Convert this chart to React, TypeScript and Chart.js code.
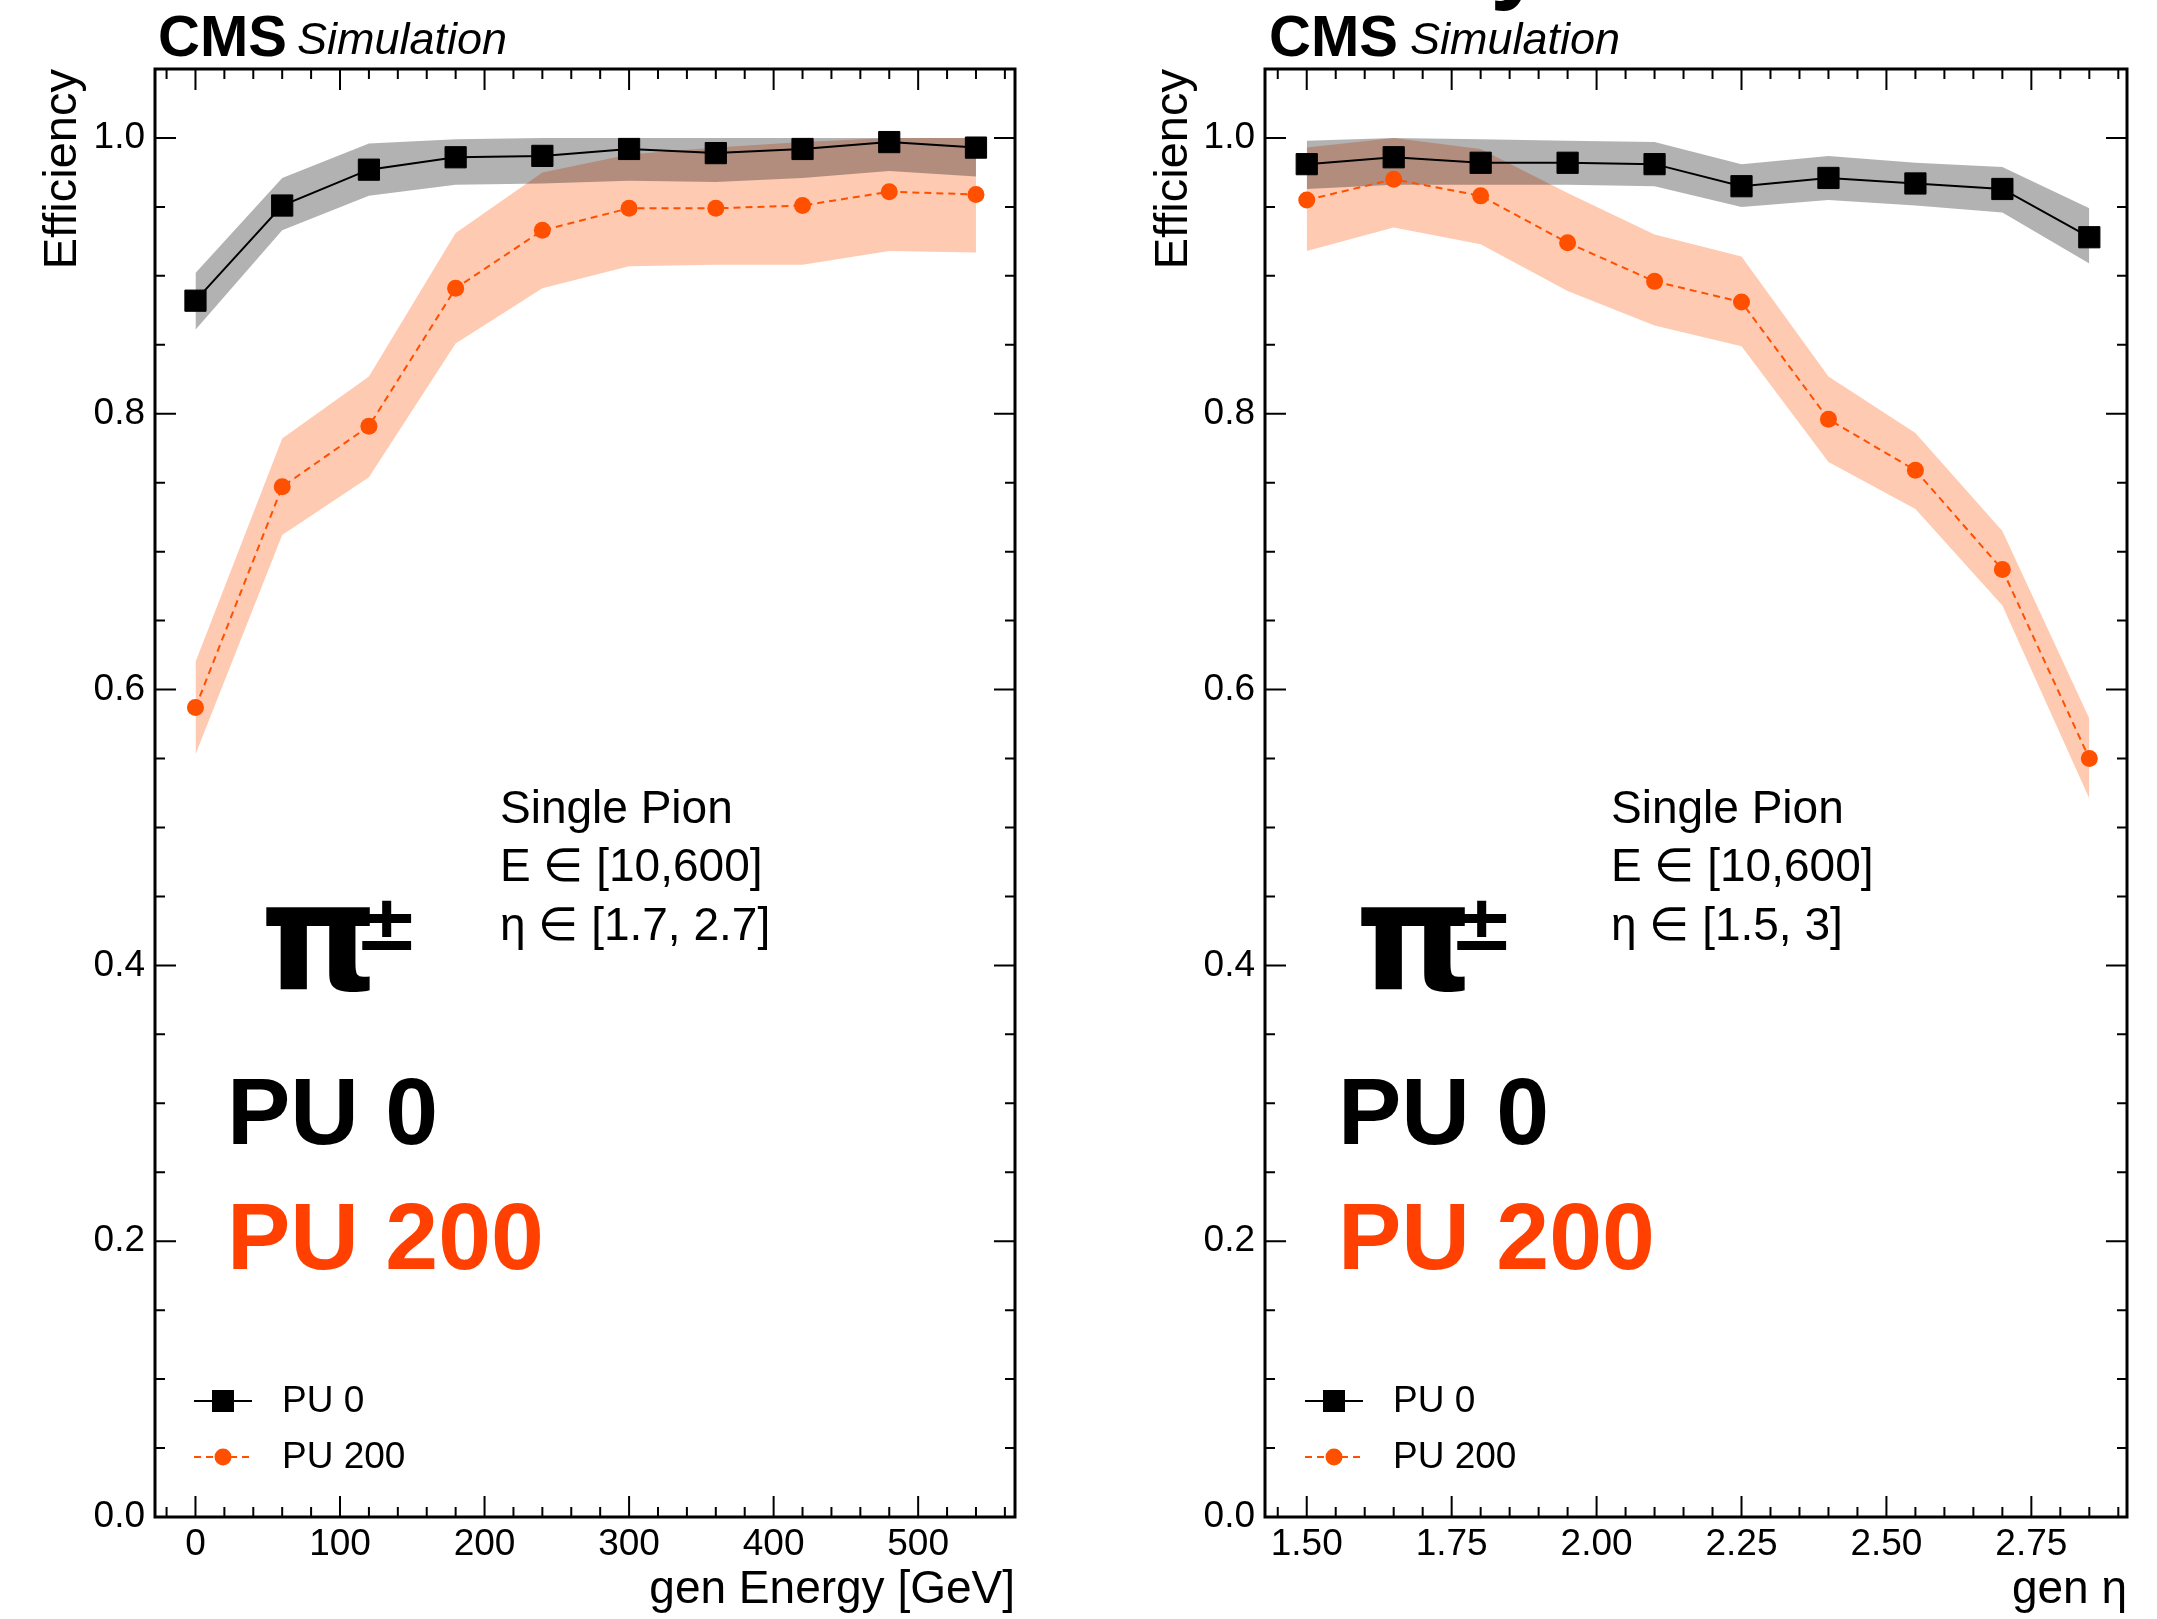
import React, { useEffect, useRef } from "react";
import { Chart, registerables } from "chart.js";

Chart.register(...registerables);

// ---------- data: left panel (efficiency vs generated energy) ----------
const energyBins = [0, 60, 120, 180, 240, 300, 360, 420, 480, 540];
const pu0Energy = [0.882, 0.951, 0.977, 0.986, 0.987, 0.992, 0.989, 0.992, 0.997, 0.993];
const pu0EnergyUp = [0.902, 0.971, 0.996, 0.999, 1.0, 1.0, 1.0, 1.0, 1.0, 1.0];
const pu0EnergyLo = [0.861, 0.933, 0.958, 0.966, 0.967, 0.969, 0.968, 0.971, 0.976, 0.972];
const pu200Energy = [0.587, 0.747, 0.791, 0.891, 0.933, 0.949, 0.949, 0.951, 0.961, 0.959];
const pu200EnergyUp = [0.62, 0.782, 0.827, 0.931, 0.975, 0.988, 0.993, 0.997, 1.0, 1.0];
const pu200EnergyLo = [0.553, 0.712, 0.754, 0.851, 0.891, 0.907, 0.908, 0.908, 0.918, 0.917];

// ---------- data: right panel (efficiency vs generated eta) ----------
const etaBins = [1.5, 1.65, 1.8, 1.95, 2.1, 2.25, 2.4, 2.55, 2.7, 2.85];
const pu0Eta = [0.981, 0.986, 0.982, 0.982, 0.981, 0.965, 0.971, 0.967, 0.963, 0.928];
const pu0EtaUp = [0.998, 1.0, 0.999, 0.998, 0.997, 0.981, 0.987, 0.982, 0.979, 0.949];
const pu0EtaLo = [0.963, 0.966, 0.966, 0.966, 0.965, 0.95, 0.955, 0.951, 0.946, 0.909];
const pu200Eta = [0.955, 0.97, 0.958, 0.924, 0.896, 0.881, 0.796, 0.759, 0.687, 0.55];
const pu200EtaUp = [0.993, 1.0, 0.992, 0.96, 0.93, 0.914, 0.827, 0.786, 0.715, 0.579];
const pu200EtaLo = [0.918, 0.935, 0.923, 0.889, 0.864, 0.849, 0.765, 0.731, 0.661, 0.521];

// ---------- tick labels ----------
const energyTicks = [0, 100, 200, 300, 400, 500];
const energyTickLabels = ["0", "100", "200", "300", "400", "500"];
const etaTicks = [1.5, 1.75, 2.0, 2.25, 2.5, 2.75];
const etaTickLabels = ["1.50", "1.75", "2.00", "2.25", "2.50", "2.75"];
const effTicks = [0, 0.2, 0.4, 0.6, 0.8, 1.0];
const effTickLabels = ["0.0", "0.2", "0.4", "0.6", "0.8", "1.0"];
const seriesLabels = ["PU 0", "PU 200"];
const energyInfo = ["Single Pion", "E \u2208 [10,600]", "\u03b7 \u2208 [1.7, 2.7]"];
const etaInfo = ["Single Pion", "E \u2208 [10,600]", "\u03b7 \u2208 [1.5, 3]"];

// ---------- styles ----------
const FONT = "'Liberation Sans', Helvetica, Arial, sans-serif";
const PI_FONT = "'DejaVu Sans', 'Liberation Sans', sans-serif";
const BLACK = "#000000";
const ORANGE = "rgb(255,80,0)";
const ORANGE_BAND = "rgba(255,80,0,0.3)";
const GRAY_BAND = "rgba(0,0,0,0.3)";
const PU200_TEXT = "rgb(255,64,0)";
const PAGE_W = 2157;
const PAGE_H = 1619;

type PanelCfg = {
  canvasLeft: number;
  canvasWidth: number;
  area: { left: number; right: number; top: number; bottom: number };
  xMin: number;
  xMax: number;
  xMinor: number;
  xMajor: number;
  xTicks: number[];
  xTickLabels: string[];
  xTitle: string;
  yTitlePad: number;
  bins: number[];
  pu0: number[];
  pu0Up: number[];
  pu0Lo: number[];
  pu200: number[];
  pu200Up: number[];
  pu200Lo: number[];
  info: string[];
  infoX: number;
  piX: number;
  puX: number;
  legendX: number;
  cmsX: number;
  simX: number;
  clippedGlyphX?: number;
};

const panels: PanelCfg[] = [
  {
    canvasLeft: 0,
    canvasWidth: 1080,
    area: { left: 155, right: 1015, top: 69, bottom: 1517 },
    xMin: -28,
    xMax: 567,
    xMinor: 20,
    xMajor: 100,
    xTicks: energyTicks,
    xTickLabels: energyTickLabels,
    xTitle: "gen Energy [GeV]",
    yTitlePad: 35,
    bins: energyBins,
    pu0: pu0Energy,
    pu0Up: pu0EnergyUp,
    pu0Lo: pu0EnergyLo,
    pu200: pu200Energy,
    pu200Up: pu200EnergyUp,
    pu200Lo: pu200EnergyLo,
    info: energyInfo,
    infoX: 500,
    piX: 264,
    puX: 227,
    legendX: 194,
    cmsX: 158,
    simX: 297,
  },
  {
    canvasLeft: 1080,
    canvasWidth: PAGE_W - 1080,
    area: { left: 185, right: 1047, top: 69, bottom: 1517 },
    xMin: 1.428,
    xMax: 2.915,
    xMinor: 0.05,
    xMajor: 0.25,
    xTicks: etaTicks,
    xTickLabels: etaTickLabels,
    xTitle: "gen \u03b7",
    yTitlePad: 66,
    bins: etaBins,
    pu0: pu0Eta,
    pu0Up: pu0EtaUp,
    pu0Lo: pu0EtaLo,
    pu200: pu200Eta,
    pu200Up: pu200EtaUp,
    pu200Lo: pu200EtaLo,
    info: etaInfo,
    infoX: 531,
    piX: 279,
    puX: 258,
    legendX: 225,
    cmsX: 189,
    simX: 330,
    clippedGlyphX: 410,
  },
];

function Panel({ cfg }: { cfg: PanelCfg }) {
  const ref = useRef<HTMLCanvasElement | null>(null);

  useEffect(() => {
    const canvas = ref.current;
    if (!canvas) return;
    const pts = (xs: number[], ys: number[]) => xs.map((x, i) => ({ x, y: ys[i] }));

    const framePlugin = {
      id: "rootFrame",
      afterDatasetsDraw(chart: any) {
        const { ctx, chartArea: a, scales } = chart;
        const xs = scales.x;
        const ys = scales.y;
        ctx.save();
        ctx.strokeStyle = BLACK;
        ctx.lineWidth = 2;
        ctx.beginPath();
        const xr = Math.round(cfg.xMajor / cfg.xMinor);
        const kx0 = Math.ceil(xs.min / cfg.xMinor - 1e-6);
        const kx1 = Math.floor(xs.max / cfg.xMinor + 1e-6);
        for (let k = kx0; k <= kx1; k++) {
          const px = xs.getPixelForValue(k * cfg.xMinor);
          if (px <= a.left + 2 || px >= a.right - 2) continue;
          const len = k % xr === 0 ? 21 : 10;
          ctx.moveTo(px, a.bottom);
          ctx.lineTo(px, a.bottom - len);
          ctx.moveTo(px, a.top);
          ctx.lineTo(px, a.top + len);
        }
        const yMinor = 0.05;
        const yr = 4;
        const ky0 = Math.ceil(ys.min / yMinor - 1e-6);
        const ky1 = Math.floor(ys.max / yMinor + 1e-6);
        for (let k = ky0; k <= ky1; k++) {
          const py = ys.getPixelForValue(k * yMinor);
          if (py <= a.top + 2 || py >= a.bottom - 2) continue;
          const len = k % yr === 0 ? 21 : 10;
          ctx.moveTo(a.left, py);
          ctx.lineTo(a.left + len, py);
          ctx.moveTo(a.right, py);
          ctx.lineTo(a.right - len, py);
        }
        ctx.stroke();
        ctx.lineWidth = 3;
        ctx.strokeRect(a.left, a.top, a.right - a.left, a.bottom - a.top);
        ctx.restore();
      },
    };

    const textPlugin = {
      id: "rootText",
      afterDraw(chart: any) {
        const ctx: CanvasRenderingContext2D = chart.ctx;
        ctx.save();
        ctx.textBaseline = "alphabetic";
        ctx.textAlign = "left";
        const put = (s: string, x: number, y: number, font: string, color = BLACK) => {
          ctx.font = font;
          ctx.fillStyle = color;
          ctx.fillText(s, x, y);
        };
        // CMS Simulation
        put("CMS", cfg.cmsX, 56, `bold 58px ${FONT}`);
        put("Simulation", cfg.simX, 54, `italic 45px ${FONT}`);
        if (cfg.clippedGlyphX !== undefined) {
          put("y", cfg.clippedGlyphX, -10, `bold 100px ${FONT}`);
        }
        // info block
        put(cfg.info[0], cfg.infoX, 823, `46px ${FONT}`);
        put(cfg.info[1], cfg.infoX, 881, `46px ${FONT}`);
        put(cfg.info[2], cfg.infoX, 940, `46px ${FONT}`);
        // pi+-
        put("\u03c0", cfg.piX - 4, 989, `bold 150px ${PI_FONT}`);
        put("\u00b1", cfg.piX + 90, 950, `bold 78px ${PI_FONT}`);
        // big PU labels
        put(seriesLabels[0], cfg.puX, 1144, `bold 95px ${FONT}`);
        put(seriesLabels[1], cfg.puX, 1269, `bold 95px ${FONT}`, PU200_TEXT);
        // legend
        const lx = cfg.legendX;
        const mx = lx + 29;
        const ty = [1401, 1457];
        ctx.lineWidth = 2;
        ctx.strokeStyle = BLACK;
        ctx.setLineDash([]);
        ctx.beginPath();
        ctx.moveTo(lx, ty[0]);
        ctx.lineTo(lx + 58, ty[0]);
        ctx.stroke();
        ctx.fillStyle = BLACK;
        ctx.fillRect(mx - 11, ty[0] - 11, 22, 22);
        ctx.strokeStyle = ORANGE;
        ctx.setLineDash([7, 5]);
        ctx.beginPath();
        ctx.moveTo(lx, ty[1]);
        ctx.lineTo(lx + 58, ty[1]);
        ctx.stroke();
        ctx.setLineDash([]);
        ctx.fillStyle = ORANGE;
        ctx.beginPath();
        ctx.arc(mx, ty[1], 8.5, 0, Math.PI * 2);
        ctx.fill();
        ctx.textBaseline = "middle";
        put(seriesLabels[0], lx + 88, ty[0] + 1, `37px ${FONT}`);
        put(seriesLabels[1], lx + 88, ty[1] + 1, `37px ${FONT}`);
        ctx.restore();
      },
    };

    const chart = new Chart(canvas, {
      type: "line",
      data: {
        datasets: [
          {
            label: "PU 200 up",
            data: pts(cfg.bins, cfg.pu200Up),
            fill: "+1",
            backgroundColor: ORANGE_BAND,
            borderColor: "transparent",
            borderWidth: 0,
            pointRadius: 0,
            order: 4,
          },
          {
            label: "PU 200 lo",
            data: pts(cfg.bins, cfg.pu200Lo),
            fill: false,
            borderColor: "transparent",
            borderWidth: 0,
            pointRadius: 0,
            order: 4,
          },
          {
            label: "PU 0 up",
            data: pts(cfg.bins, cfg.pu0Up),
            fill: "+1",
            backgroundColor: GRAY_BAND,
            borderColor: "transparent",
            borderWidth: 0,
            pointRadius: 0,
            order: 3,
          },
          {
            label: "PU 0 lo",
            data: pts(cfg.bins, cfg.pu0Lo),
            fill: false,
            borderColor: "transparent",
            borderWidth: 0,
            pointRadius: 0,
            order: 3,
          },
          {
            label: seriesLabels[1],
            data: pts(cfg.bins, cfg.pu200),
            fill: false,
            borderColor: ORANGE,
            borderWidth: 2,
            borderDash: [7, 5],
            pointStyle: "circle",
            pointRadius: 8.5,
            pointBackgroundColor: ORANGE,
            pointBorderColor: ORANGE,
            pointBorderWidth: 0,
            order: 2,
          },
          {
            label: seriesLabels[0],
            data: pts(cfg.bins, cfg.pu0),
            fill: false,
            borderColor: BLACK,
            borderWidth: 2,
            pointStyle: "rect",
            pointRadius: 15,
            pointBackgroundColor: BLACK,
            pointBorderColor: BLACK,
            pointBorderWidth: 1,
            order: 1,
          },
        ],
      },
      options: {
        responsive: false,
        animation: false,
        devicePixelRatio: 1,
        events: [],
        layout: {
          padding: {
            left: 0,
            right: cfg.canvasWidth - cfg.area.right,
            top: cfg.area.top,
            bottom: 0,
          },
        },
        plugins: {
          legend: { display: false },
          tooltip: { enabled: false },
        },
        scales: {
          x: {
            type: "linear",
            min: cfg.xMin,
            max: cfg.xMax,
            grid: { display: false, drawTicks: false },
            border: { display: false },
            afterBuildTicks: (s: any) => {
              s.ticks = cfg.xTicks.map((v) => ({ value: v }));
            },
            afterFit: (s: any) => {
              s.height = PAGE_H - cfg.area.bottom;
            },
            ticks: {
              autoSkip: false,
              maxRotation: 0,
              padding: 6,
              color: BLACK,
              font: { family: FONT, size: 37 },
              callback: (_v: any, i: number) => cfg.xTickLabels[i] ?? "",
            },
            title: {
              display: true,
              text: cfg.xTitle,
              align: "end",
              color: BLACK,
              font: { family: FONT, size: 46 },
              padding: { top: 0, bottom: 1 },
            },
          },
          y: {
            type: "linear",
            min: 0,
            max: 1.05,
            grid: { display: false, drawTicks: false },
            border: { display: false },
            afterBuildTicks: (s: any) => {
              s.ticks = effTicks.map((v) => ({ value: v }));
            },
            afterFit: (s: any) => {
              s.width = cfg.area.left;
            },
            ticks: {
              autoSkip: false,
              padding: 10,
              color: BLACK,
              font: { family: FONT, size: 37 },
              callback: (_v: any, i: number) => effTickLabels[i] ?? "",
            },
            title: {
              display: true,
              text: "Efficiency",
              align: "end",
              color: BLACK,
              font: { family: FONT, size: 47 },
              padding: { top: cfg.yTitlePad, bottom: 0 },
            },
          },
        },
      },
      plugins: [framePlugin, textPlugin],
    } as any);

    return () => {
      chart.destroy();
    };
  }, [cfg]);

  return (
    <canvas
      ref={ref}
      width={cfg.canvasWidth}
      height={PAGE_H}
      style={{
        position: "absolute",
        left: cfg.canvasLeft,
        top: 0,
        width: cfg.canvasWidth,
        height: PAGE_H,
      }}
    />
  );
}

export default function App() {
  return (
    <div
      style={{
        position: "absolute",
        left: 0,
        top: 0,
        width: PAGE_W,
        height: PAGE_H,
        background: "#ffffff",
        overflow: "hidden",
      }}
    >
      {panels.map((p, i) => (
        <Panel key={i} cfg={p} />
      ))}
    </div>
  );
}
